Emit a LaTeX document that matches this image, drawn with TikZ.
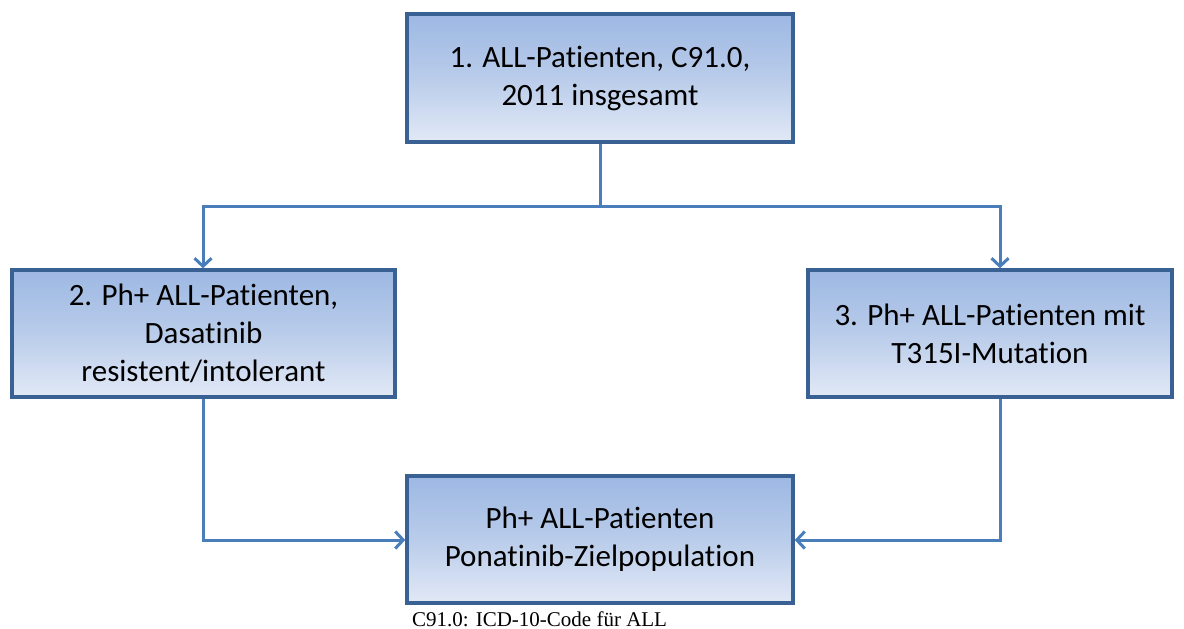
\documentclass[tikz,border=0pt]{standalone}
\usepackage{fontspec}
\setmainfont{Carlito}[Ligatures={NoCommon}]
\newfontfamily\capfont{Liberation Serif}
\usetikzlibrary{arrows.meta}
\definecolor{boxline}{RGB}{58,97,148}
\definecolor{conn}{RGB}{74,126,187}
\definecolor{topblue}{RGB}{157,184,227}
\definecolor{midblue}{RGB}{185,204,234}
\definecolor{botblue}{RGB}{226,233,246}
\begin{document}
\begin{tikzpicture}[x=1pt,y=-1pt,
  flowbox/.style={draw=boxline, line width=3.4pt, top color=topblue, bottom color=botblue, middle color=midblue,
    shading angle=0, font=\fontsize{31}{38}\selectfont, align=center, inner sep=0pt},
  link/.style={draw=conn, line width=3pt},
  arr/.style={link, -{Straight Barb[length=8pt,width=17pt,line width=3pt]}}]
\useasboundingbox (0,0) rectangle (1184,629);
\node[flowbox, minimum width=386pt, minimum height=128pt] (top) at (600,78) {1. ALL-Patienten, C91.0,\\2011 insgesamt};
\node[flowbox, minimum width=383pt, minimum height=127pt] (left) at (203.5,333.5) {2. Ph+ ALL-Patienten,\\Dasatinib\\resistent/intolerant};
\node[flowbox, minimum width=364pt, minimum height=127pt] (right) at (990,333.5) {3. Ph+ ALL-Patienten mit\\T315I-Mutation};
\node[flowbox, minimum width=386pt, minimum height=127pt] (bot) at (600,539.5) {Ph+ ALL-Patienten\\Ponatinib-Zielpopulation};
\node[anchor=base west, font=\capfont\fontsize{21}{24}\selectfont, inner sep=0pt] (cap) at (412,626) {C91.0: ICD-10-Code für ALL};
\coordinate (split) at (600,206);
\coordinate (lt) at (203,206);
\coordinate (rt) at (1000,206);
\coordinate (lb) at (203,540);
\coordinate (rb) at (1000,540);
\draw[link] (top.south) -- (split);
\draw[arr] (split) -- (lt) -- (lt |- left.north);
\draw[arr] (split) -- (rt) -- (rt |- right.north);
\draw[arr] (lt |- left.south) -- (lb) -- (bot.west |- lb);
\draw[arr] (rt |- right.south) -- (rb) -- (bot.east |- rb);
\end{tikzpicture}
\end{document}
